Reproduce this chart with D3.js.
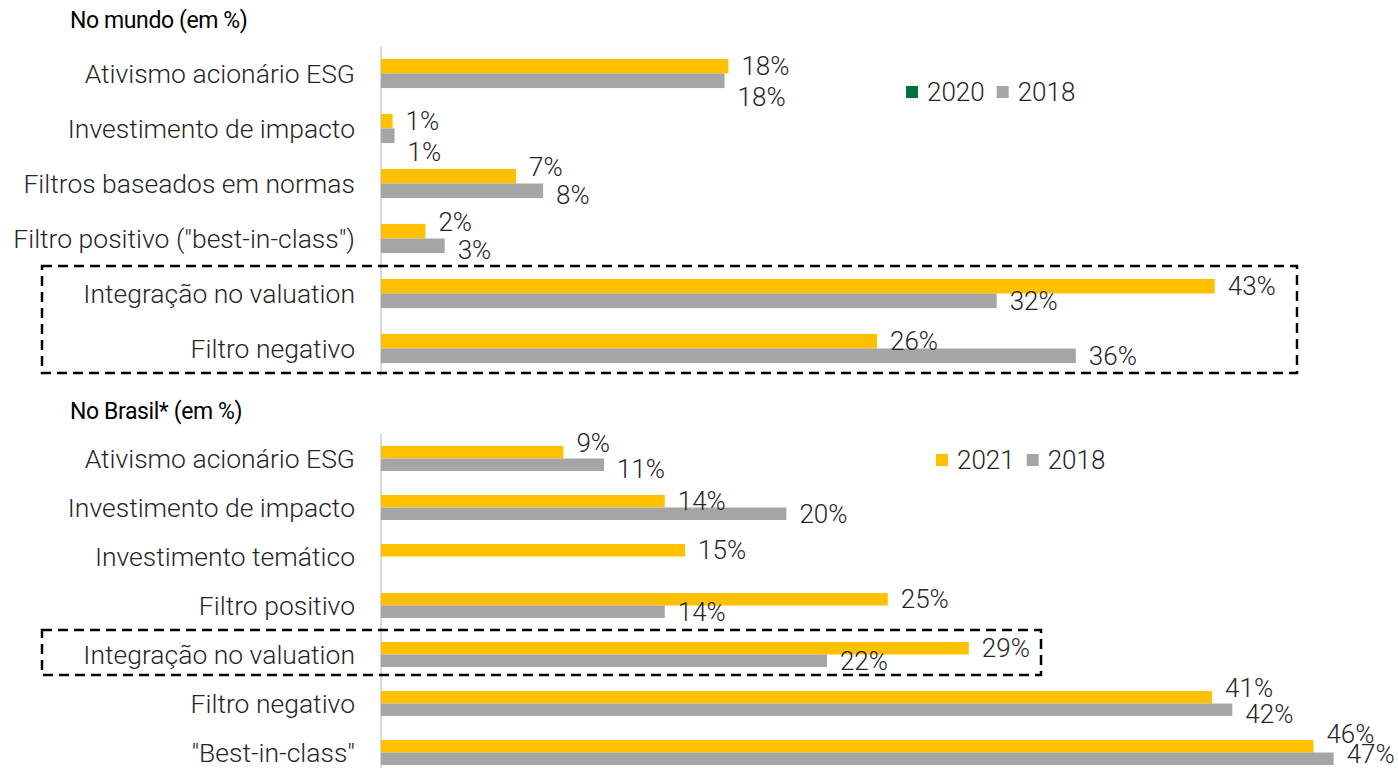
<!DOCTYPE html>
<html>
<head>
<meta charset="utf-8">
<script src="https://cdn.jsdelivr.net/npm/d3@7"></script>
<style>
  body { margin:0; background:#fff; }
  svg text { font-family: Roboto, "Noto Sans", sans-serif; }
</style>
</head>
<body>
<div id="chart"></div>
<script>
// dados - no mundo
const worldCats = ["Ativismo acionário ESG","Investimento de impacto","Filtros baseados em normas",
                   "Filtro positivo (\"best-in-class\")","Integração no valuation","Filtro negativo"]
const world2020 = [18.0, 0.6, 7.0, 2.3, 43.2, 25.7]
const world2018 = [17.8, 0.7, 8.4, 3.3, 31.9, 36.0]
const worldKeys = ["2020","2018"]

// dados - no Brasil
const brCats = ["Ativismo acionário ESG","Investimento de impacto","Investimento temático",
                "Filtro positivo","Integração no valuation","Filtro negativo","\"Best-in-class\""]
const br2021 = [9, 14, 15, 25, 29, 41, 46]
const br2018 = [11, 20, null, 14, 22, 42, 47]
const brKeys = ["2021","2018"]

const W = 1398, H = 768
const yellow = "#FFC000", gray = "#A5A5A5", green = "#00703C"

const svg = d3.select("#chart").append("svg")
  .attr("width", W).attr("height", H)

function panel(opt){
  const x = d3.scaleLinear().domain([0,50]).range([381, 381 + 50*opt.pxPer])
  const y = d3.scaleBand().domain(opt.cats).range(opt.yRange)
    .paddingInner(opt.pad).paddingOuter(opt.pad/2)
  const sub = d3.scaleBand().domain([0,1]).range([0, y.bandwidth()])

  const g = svg.append("g")

  // titulo
  g.append("text")
    .attr("x", 70).attr("y", opt.titleY)
    .attr("dominant-baseline","central")
    .style("font-size","23px")
    .style("letter-spacing","-0.4px")
    .style("fill","#000")
    .text(opt.title)

  // eixo vertical
  g.append("line")
    .attr("x1", x(0)).attr("x2", x(0))
    .attr("y1", opt.yRange[0]).attr("y2", opt.axisEnd)
    .style("stroke","#D9D9D9").style("stroke-width",2)

  // categorias
  g.selectAll(null)
    .data(opt.cats)
    .enter()
    .append("text")
      .attr("x", 355)
      .attr("y", d => y(d) + y.bandwidth()/2)
      .attr("text-anchor","end")
      .attr("dominant-baseline","central")
      .style("font-size","26.5px")
      .style("font-weight",300)
      .style("fill","#262626")
      .text(d => d)

  const rows = opt.cats.map((c,i) => ({c:c, a:opt.s1[i], b:opt.s2[i]}))
  const series = [{k:0, col:yellow, f:d=>d.a}, {k:1, col:gray, f:d=>d.b}]

  series.forEach(s => {
    g.selectAll(null)
      .data(rows.filter(d => s.f(d) != null))
      .enter()
      .append("rect")
        .attr("x", x(0))
        .attr("y", d => y(d.c) + sub(s.k))
        .attr("width", d => x(s.f(d)) - x(0))
        .attr("height", sub.bandwidth())
        .style("fill", s.col)
  })

  // posicao vertical dos rotulos, com desvio simples quando se sobrepoem
  rows.forEach(d => {
    const c0 = y(d.c) + sub(0) + sub.bandwidth()/2
    const c1 = y(d.c) + sub(1) + sub.bandwidth()/2
    d.ly = [c0, c1]
    if (d.a != null && d.b != null){
      const dx = Math.abs(x(d.a) - x(d.b))
      if (dx < 15) d.ly[1] += 16
      else if (dx < 45) { d.ly[0] -= 9; d.ly[1] += 4 }
    }
    if (d.ly[1] > H - 14) {
      d.ly[1] = H - 14
      d.ly[0] = Math.min(d.ly[0], d.ly[1] - 20)
    }
  })

  series.forEach(s => {
    g.selectAll(null)
      .data(rows.filter(d => s.f(d) != null))
      .enter()
      .append("text")
        .attr("y", d => d.ly[s.k])
        .attr("dominant-baseline","central")
        .style("font-size","26px")
        .style("font-weight",300)
        .style("fill","#262626")
        .text(d => Math.round(s.f(d)) + "%")
        .attr("x", function(d){
          const w = this.getComputedTextLength()
          return Math.min(x(s.f(d)) + 13, W - w - 2)
        })
  })

  // legenda
  const lg = g.append("g").attr("transform","translate(" + opt.legend[0] + "," + opt.legend[1] + ")")
  const items = [{t:opt.keys[0], c:opt.legendCol0}, {t:opt.keys[1], c:gray}]
  let lx = 0
  items.forEach(it => {
    lg.append("rect").attr("x", lx).attr("y", -6).attr("width",12).attr("height",12).style("fill", it.c)
    const t = lg.append("text").attr("x", lx + 21).attr("y", 0)
      .attr("dominant-baseline","central")
      .style("font-size","26px").style("font-weight",300).style("fill","#262626")
      .text(it.t)
    lx += 21 + t.node().getComputedTextLength() + 12
  })

  // caixa tracejada
  const bx = opt.box
  g.append("rect")
    .attr("x", 42)
    .attr("y", y(opt.cats[bx.from]) - y.step()*y.paddingInner()/2)
    .attr("width", bx.right - 42)
    .attr("height", y(opt.cats[bx.to]) + y.bandwidth() + y.step()*y.paddingInner()/2
                    - (y(opt.cats[bx.from]) - y.step()*y.paddingInner()/2) - bx.trim)
    .style("fill","none")
    .style("stroke","#000")
    .style("stroke-width",2.5)
    .style("stroke-dasharray","10,6")
}

panel({
  title:"No mundo (em %)", titleY:20,
  cats:worldCats, s1:world2020, s2:world2018, keys:worldKeys, legendCol0:green,
  pxPer:19.3, yRange:[46,376], pad:0.47, axisEnd:376,
  legend:[906,92], box:{from:4, to:5, right:1297, trim:3}
})

panel({
  title:"No Brasil* (em %)", titleY:411,
  cats:brCats, s1:br2021, s2:br2018, keys:brKeys, legendCol0:yellow,
  pxPer:20.27, yRange:[434,777], pad:0.49, axisEnd:768,
  legend:[936,460], box:{from:4, to:4, right:1041, trim:4}
})
</script>
</body>
</html>
